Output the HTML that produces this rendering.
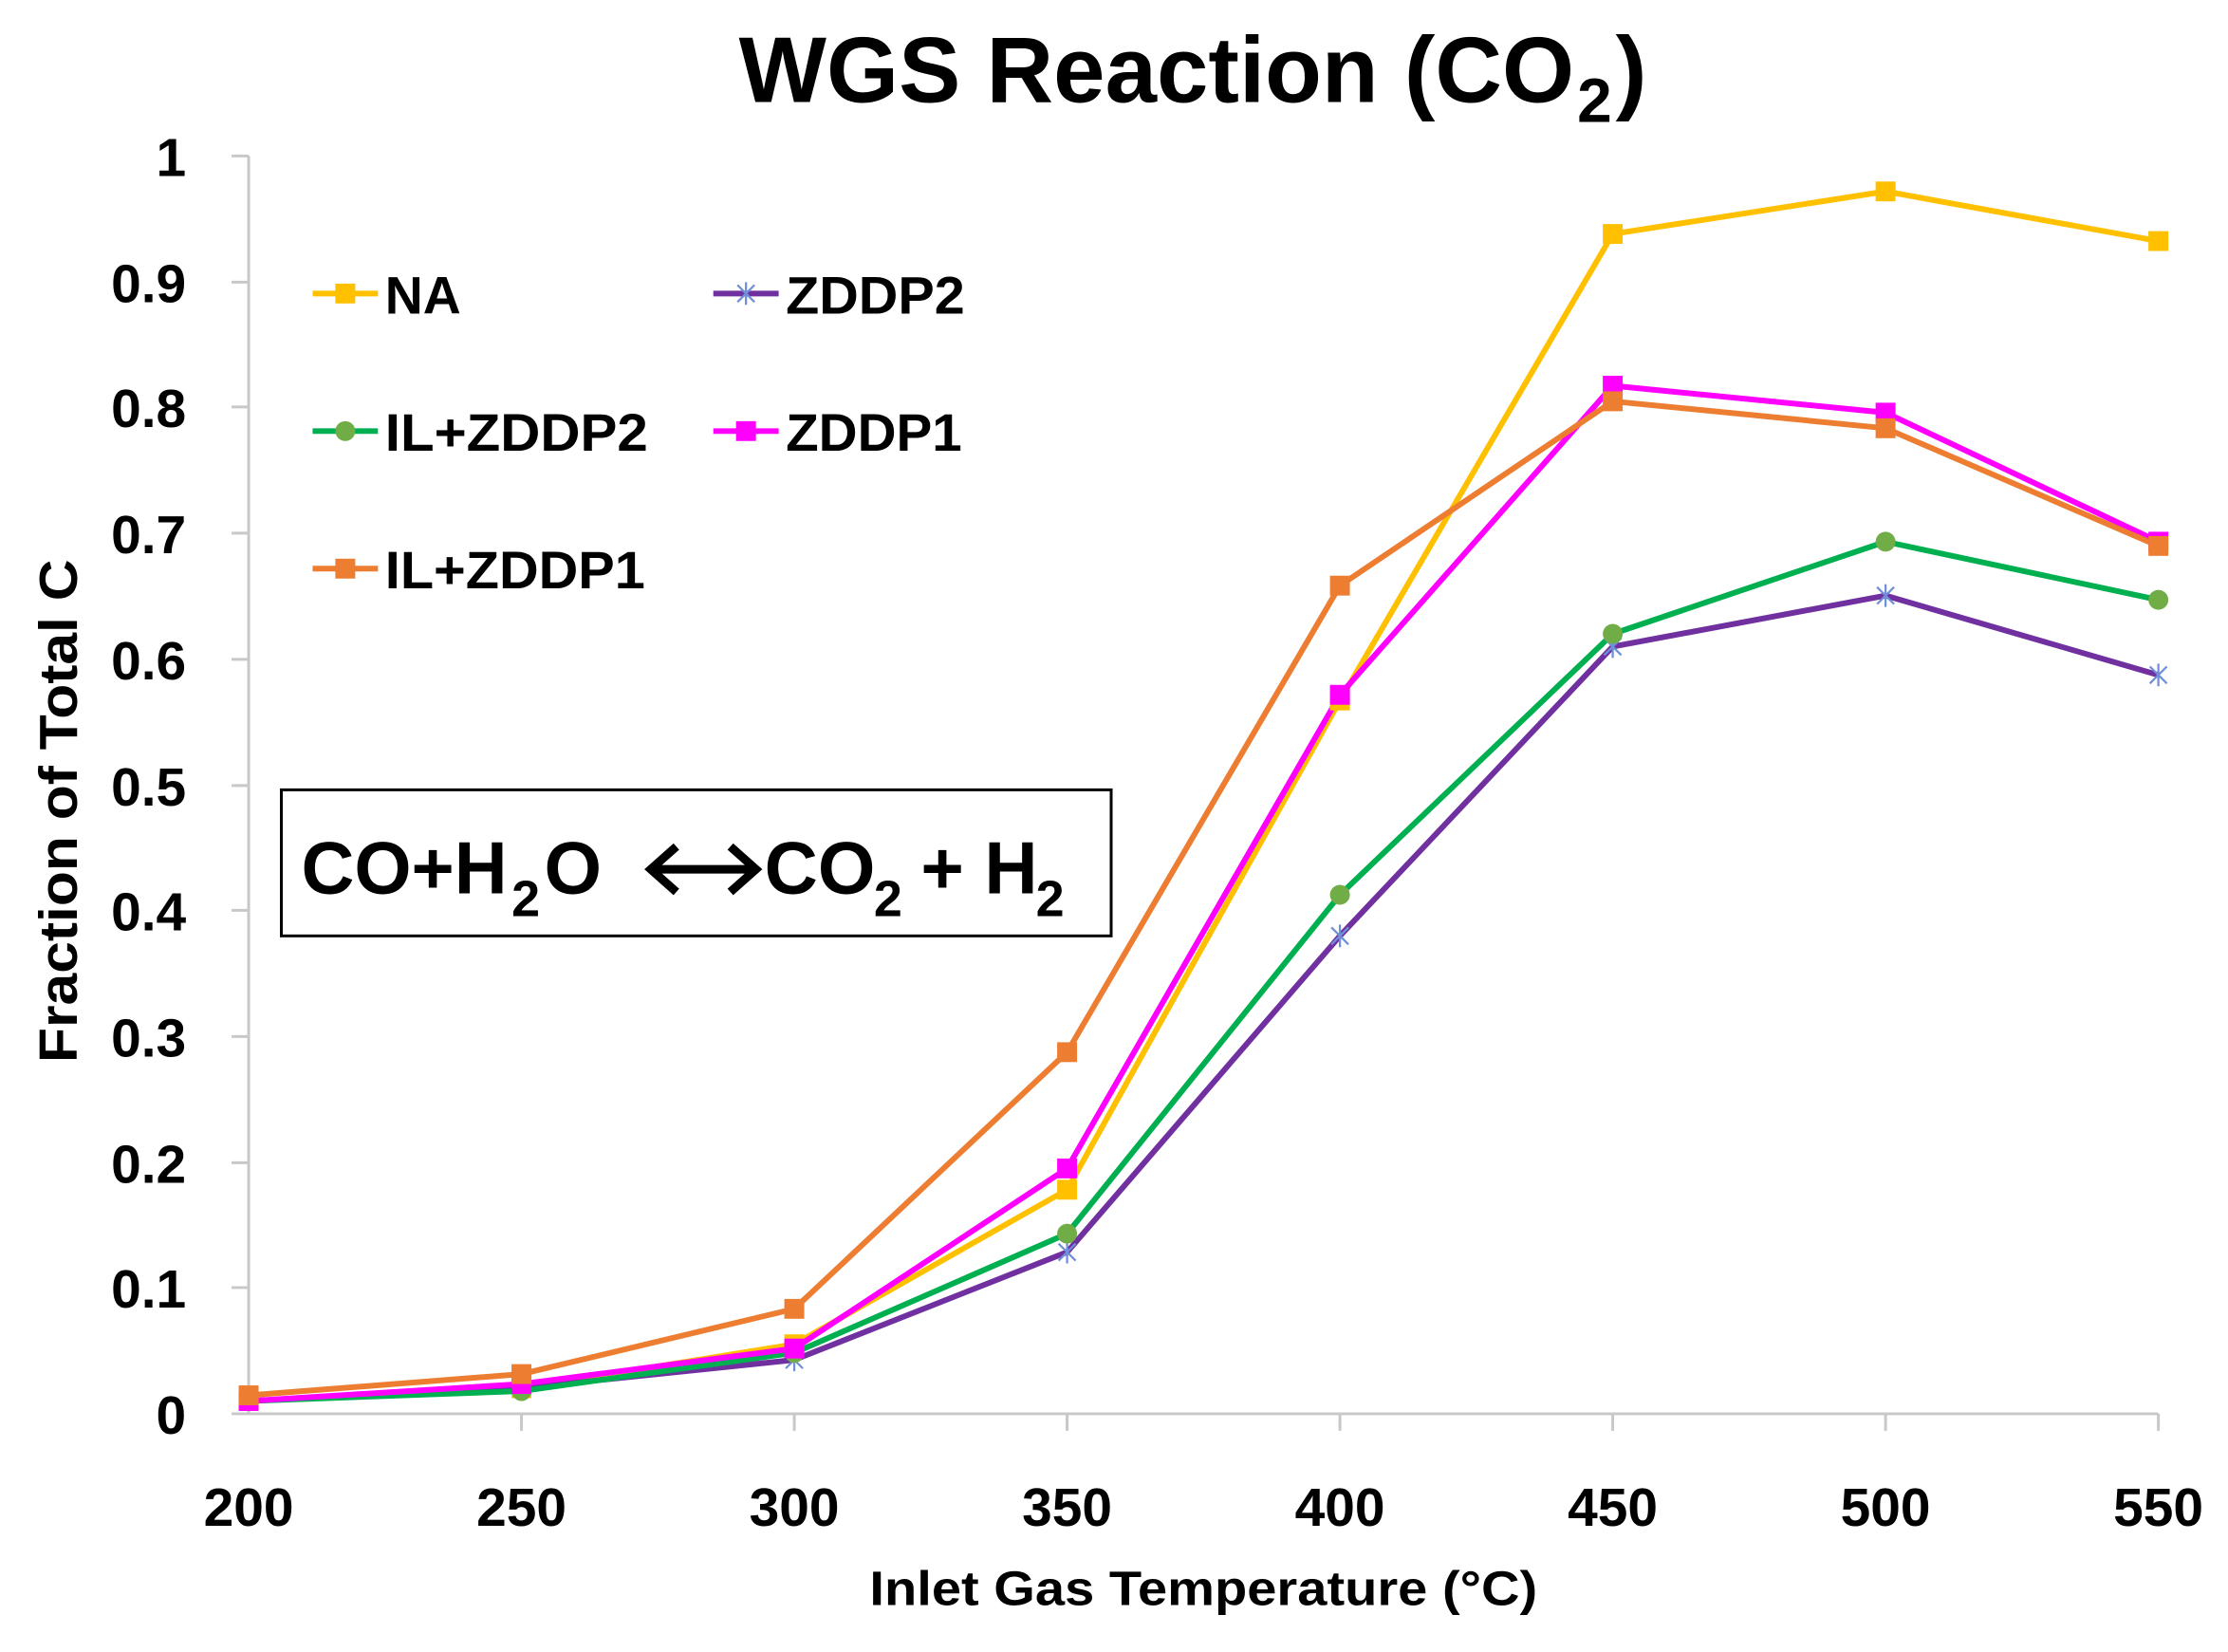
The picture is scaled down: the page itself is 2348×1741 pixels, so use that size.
<!DOCTYPE html>
<html><head><meta charset="utf-8"><style>
html,body{margin:0;padding:0;background:#fff;}
svg{display:block;}
text{font-family:"Liberation Sans",sans-serif;font-weight:bold;fill:#000;}
</style></head><body>
<svg width="2348" height="1741" viewBox="0 0 1568 1165" preserveAspectRatio="none" xmlns="http://www.w3.org/2000/svg">
<rect width="1568" height="1165" fill="#fff"/>
<text x="520" y="72" font-size="66" textLength="588" lengthAdjust="spacingAndGlyphs">WGS Reaction (CO</text>
<text x="1110" y="86" font-size="44">2</text>
<text x="1137" y="72" font-size="66">)</text>
<!-- axes -->
<g stroke="#c8c8c8" stroke-width="2">
<line x1="175" y1="110" x2="175" y2="997"/>
<line x1="163" y1="997" x2="1519" y2="997"/>
<line x1="163" y1="110" x2="175" y2="110"/><line x1="163" y1="199" x2="175" y2="199"/>
<line x1="163" y1="287" x2="175" y2="287"/><line x1="163" y1="376" x2="175" y2="376"/>
<line x1="163" y1="465" x2="175" y2="465"/><line x1="163" y1="554" x2="175" y2="554"/>
<line x1="163" y1="642" x2="175" y2="642"/><line x1="163" y1="731" x2="175" y2="731"/>
<line x1="163" y1="820" x2="175" y2="820"/><line x1="163" y1="908" x2="175" y2="908"/>
<line x1="367" y1="997" x2="367" y2="1009"/><line x1="559" y1="997" x2="559" y2="1009"/>
<line x1="751" y1="997" x2="751" y2="1009"/><line x1="943" y1="997" x2="943" y2="1009"/>
<line x1="1135" y1="997" x2="1135" y2="1009"/><line x1="1327" y1="997" x2="1327" y2="1009"/>
<line x1="1519" y1="997" x2="1519" y2="1009"/>
</g>
<g font-size="38" text-anchor="end">
<text x="131" y="124">1</text><text x="131" y="213">0.9</text><text x="131" y="301">0.8</text>
<text x="131" y="390">0.7</text><text x="131" y="479">0.6</text><text x="131" y="568">0.5</text>
<text x="131" y="656">0.4</text><text x="131" y="745">0.3</text><text x="131" y="834">0.2</text>
<text x="131" y="922">0.1</text><text x="131" y="1011">0</text>
</g>
<g font-size="38" text-anchor="middle">
<text x="175" y="1076">200</text><text x="367" y="1076">250</text><text x="559" y="1076">300</text>
<text x="751" y="1076">350</text><text x="943" y="1076">400</text><text x="1135" y="1076">450</text>
<text x="1327" y="1076">500</text><text x="1519" y="1076">550</text>
</g>
<text x="612" y="1132" font-size="34" textLength="470" lengthAdjust="spacingAndGlyphs">Inlet Gas Temperature (°C)</text>
<text transform="translate(54,572) rotate(-90)" font-size="38" text-anchor="middle" textLength="355" lengthAdjust="spacingAndGlyphs">Fraction of Total C</text>
<!-- equation box -->
<rect x="198" y="557" width="584" height="103" fill="#fff" stroke="#000" stroke-width="2"/>
<text x="212" y="630" font-size="52" textLength="145" lengthAdjust="spacingAndGlyphs">CO+H</text>
<text x="360" y="646" font-size="36">2</text>
<text x="383" y="630" font-size="52">O</text>
<path d="M460,613H530M476,597L458,613L476,629M514,597L532,613L514,629" fill="none" stroke="#000" stroke-width="6"/>
<text x="538" y="630" font-size="52">CO</text>
<text x="615" y="646" font-size="36">2</text>
<text x="648" y="630" font-size="52">+ H</text>
<text x="729" y="646" font-size="36">2</text>
<!-- series -->
<g fill="none" stroke-width="4" stroke-linejoin="round">
<polyline stroke="#ffc000" points="175,988 367,979 559,948 751,839 943,494 1135,165 1327,135 1519,170"/>
<polyline stroke="#7030a0" points="175,988 367,979 559,959 751,883 943,660 1135,456 1327,420 1519,476"/>
<polyline stroke="#00b050" points="175,988 367,981 559,954 751,870 943,631 1135,447 1327,382 1519,423"/>
<polyline stroke="#ff00ff" points="175,988 367,976 559,951 751,824 943,490 1135,272 1327,291 1519,382"/>
<polyline stroke="#ed7d31" points="175,984 367,969 559,923 751,742 943,413 1135,283 1327,302 1519,385"/>
</g>
<g fill="#ffc000">
<rect x="168" y="981" width="14" height="14"/><rect x="360" y="972" width="14" height="14"/><rect x="552" y="941" width="14" height="14"/><rect x="744" y="832" width="14" height="14"/><rect x="936" y="487" width="14" height="14"/><rect x="1128" y="158" width="14" height="14"/><rect x="1320" y="128" width="14" height="14"/><rect x="1512" y="163" width="14" height="14"/>
</g>
<g stroke="#6f8fd8" stroke-width="1.5">
<path d="M553,953l12,12M565,953l-12,12M559,951v16M745,877l12,12M757,877l-12,12M751,875v16M937,654l12,12M949,654l-12,12M943,652v16M1129,450l12,12M1141,450l-12,12M1135,448v16M1321,414l12,12M1333,414l-12,12M1327,412v16M1513,470l12,12M1525,470l-12,12M1519,468v16"/>
</g>
<g fill="#70ad47">
<circle cx="175" cy="988" r="7"/><circle cx="367" cy="981" r="7"/><circle cx="559" cy="954" r="7"/><circle cx="751" cy="870" r="7"/><circle cx="943" cy="631" r="7"/><circle cx="1135" cy="447" r="7"/><circle cx="1327" cy="382" r="7"/><circle cx="1519" cy="423" r="7"/>
</g>
<g fill="#ff00ff">
<rect x="168" y="981" width="14" height="14"/><rect x="360" y="969" width="14" height="14"/><rect x="552" y="944" width="14" height="14"/><rect x="744" y="817" width="14" height="14"/><rect x="936" y="483" width="14" height="14"/><rect x="1128" y="265" width="14" height="14"/><rect x="1320" y="284" width="14" height="14"/><rect x="1512" y="375" width="14" height="14"/>
</g>
<g fill="#ed7d31">
<rect x="168" y="977" width="14" height="14"/><rect x="360" y="962" width="14" height="14"/><rect x="552" y="916" width="14" height="14"/><rect x="744" y="735" width="14" height="14"/><rect x="936" y="406" width="14" height="14"/><rect x="1128" y="276" width="14" height="14"/><rect x="1320" y="295" width="14" height="14"/><rect x="1512" y="378" width="14" height="14"/>
</g>
<!-- legend -->
<g stroke-width="4">
<line x1="220" y1="207" x2="266" y2="207" stroke="#ffc000"/>
<line x1="502" y1="207" x2="548" y2="207" stroke="#7030a0"/>
<line x1="220" y1="304" x2="266" y2="304" stroke="#00b050"/>
<line x1="502" y1="304" x2="548" y2="304" stroke="#ff00ff"/>
<line x1="220" y1="401" x2="266" y2="401" stroke="#ed7d31"/>
</g>
<rect x="236" y="200" width="14" height="14" fill="#ffc000"/>
<path d="M519,201l12,12M531,201l-12,12M525,199v16" stroke="#6f8fd8" stroke-width="1.5"/>
<circle cx="243" cy="304" r="7" fill="#70ad47"/>
<rect x="518" y="297" width="14" height="14" fill="#ff00ff"/>
<rect x="236" y="394" width="14" height="14" fill="#ed7d31"/>
<g font-size="37">
<text x="271" y="221">NA</text><text x="553" y="221" textLength="126" lengthAdjust="spacingAndGlyphs">ZDDP2</text>
<text x="271" y="318" textLength="185" lengthAdjust="spacingAndGlyphs">IL+ZDDP2</text><text x="553" y="318" textLength="124" lengthAdjust="spacingAndGlyphs">ZDDP1</text>
<text x="271" y="415" textLength="183" lengthAdjust="spacingAndGlyphs">IL+ZDDP1</text>
</g>
</svg>
</body></html>
